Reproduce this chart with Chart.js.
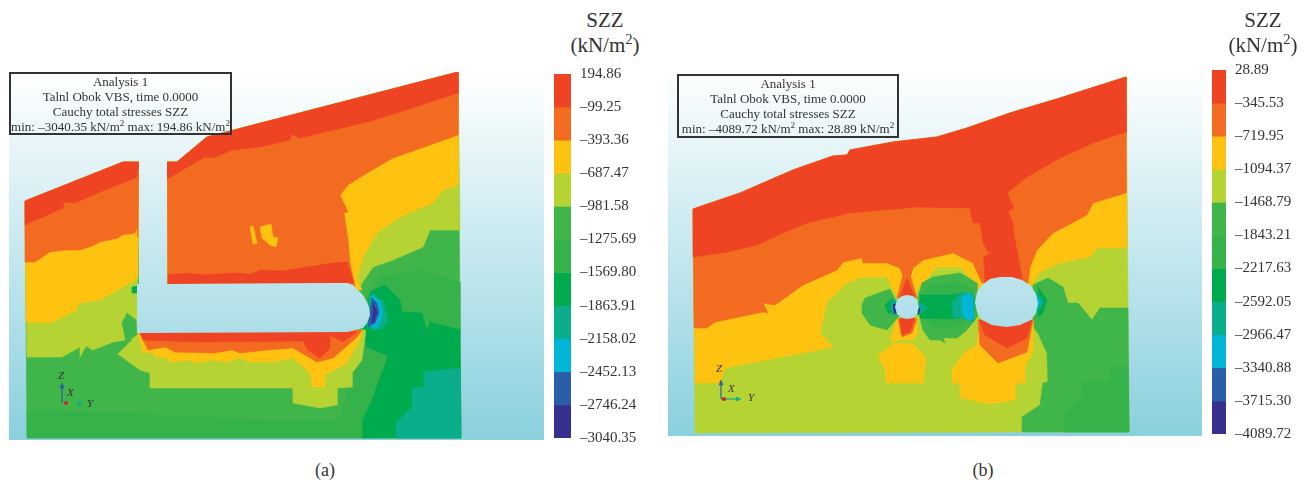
<!DOCTYPE html>
<html>
<head>
<meta charset="utf-8">
<script src="https://cdn.jsdelivr.net/npm/chart.js@4"></script>
<style>
  html, body { margin: 0; padding: 0; background: #fff; }
  body { position: relative; width: 1309px; height: 483px; overflow: hidden; font-family: "Liberation Serif", serif; color: #333; }
  canvas { position: absolute; }
  .title { position: absolute; width: 100px; text-align: center; font-size: 21px; line-height: 25px; }
  .title sup, .box sup { line-height: 0; font-size: 70%; }
  .box { position: absolute; box-sizing: border-box; border: 2px solid #333; text-align: center; font-size: 13px; line-height: 15px; white-space: nowrap; }
  .cap { position: absolute; font-size: 18px; width: 40px; text-align: center; }
  .ax { position: absolute; font-style: italic; font-size: 11px; line-height: 11px; }
</style>
</head>
<body>
<canvas id="modelA" width="535" height="368" style="left:9px;top:72px"></canvas>
<canvas id="barA" width="100" height="392" style="left:554px;top:60px"></canvas>
<canvas id="modelB" width="534" height="368" style="left:668px;top:68px"></canvas>
<canvas id="barB" width="97" height="392" style="left:1212px;top:56px"></canvas>

<div class="title" style="left:555px;top:8px">SZZ<br>(kN/m<sup>2</sup>)</div>
<div class="title" style="left:1213px;top:8px">SZZ<br>(kN/m<sup>2</sup>)</div>

<div class="box" style="left:9px;top:72px;width:223px;height:63px">Analysis 1<br>Talnl Obok VBS, time 0.0000<br>Cauchy total stresses SZZ<br>min: –3040.35 kN/m<sup>2</sup> max: 194.86 kN/m<sup>2</sup></div>
<div class="box" style="left:677px;top:74px;width:222px;height:64px">Analysis 1<br>Talnl Obok VBS, time 0.0000<br>Cauchy total stresses SZZ<br>min: –4089.72 kN/m<sup>2</sup> max: 28.89 kN/m<sup>2</sup></div>

<div class="ax" style="left:58px;top:370px">Z</div>
<div class="ax" style="left:67px;top:387px">X</div>
<div class="ax" style="left:87px;top:398px">Y</div>
<div class="ax" style="left:716px;top:363px">Z</div>
<div class="ax" style="left:728px;top:383px">X</div>
<div class="ax" style="left:748px;top:392px">Y</div>

<div class="cap" style="left:305px;top:460px">(a)</div>
<div class="cap" style="left:963px;top:460px">(b)</div>

<script>
// legend values
const ticksA = [194.86, -99.25, -393.36, -687.47, -981.58, -1275.69, -1569.80, -1863.91, -2158.02, -2452.13, -2746.24, -3040.35];
const ticksB = [28.89, -345.53, -719.95, -1094.37, -1468.79, -1843.21, -2217.63, -2592.05, -2966.47, -3340.88, -3715.30, -4089.72];

const RED = '#ef4423', ORANGE = '#f36b21', YELLOW = '#fec210', LIME = '#b5d333', G1 = '#40b549', G2 = '#36b24a',
  G3 = '#00ab4e', TEAL = '#0aae8a', CYAN = '#00b5d6', BLUE = '#2b5ea8', NAVY = '#38308f';
const bandColors = [RED, ORANGE, YELLOW, LIME, G1, G2, G3, TEAL, CYAN, BLUE, NAVY];

// ---- contour outlines of panel (a) ----
const a_base = [[25,201],[123,162],[139,162],[139,284],[167,284],[167,162],[177,162],[207,137],[458,72],[461,438],[27,438]];
const a_g2Bottom = [[27,410],[100,412],[200,417],[300,421],[333,420],[357,413],[365,397],[365,438],[27,438]];
const a_g2Right = [[365,300],[380,277],[420,270],[460,282],[460,335],[365,335]];
const a_g2Under = [[352,373],[363,335],[372,345],[388,356],[383,370],[372,400],[365,415],[340,420]];
const a_g3 = [[363,330],[367,347],[388,356],[383,370],[372,400],[363,420],[363,438],[461,438],[460,330],[430,322],[427,332],[422,313],[402,312],[400,300],[385,285],[370,292]];
const a_teal = [[396,438],[396,423],[412,407],[412,388],[424,387],[424,372],[460,368],[461,438]];
const a_limeL = [[25,201],[123,162],[139,162],[137,338],[113,342],[93,350],[86,346],[80,357],[80,347],[62,357],[27,357]];
const a_blob = [[127,313],[122,323],[126,342],[137,335],[136,320]];
const a_blob2 = [[132,287],[137,286],[137,293],[132,293]];
const a_yellowL = [[25,201],[123,162],[139,162],[138,278],[130,283],[100,300],[78,303],[77,310],[50,323],[26,322]];
const a_orangeL = [[25,201],[123,162],[139,162],[138,238],[137,228],[135,233],[122,235],[118,238],[100,242],[92,246],[80,250],[65,250],[50,252],[35,262],[25,262]];
const a_redL = [[25,201],[123,162],[139,162],[137,177],[100,192],[75,203],[63,202],[63,208],[25,225]];
const a_limeR = [[167,162],[177,162],[207,137],[458,72],[460,230],[430,230],[423,247],[393,260],[373,267],[362,283],[358,290],[168,284]];
const a_yellowR = [[167,162],[177,162],[207,137],[458,72],[458,185],[443,190],[433,203],[400,217],[377,233],[363,257],[357,277],[362,290],[168,284]];
const a_orangeR = [[167,162],[177,162],[207,137],[458,72],[458,135],[430,145],[393,158],[367,173],[348,185],[340,195],[348,212],[344,213],[348,240],[350,263],[355,287],[168,284]];
const a_redTop = [[167,162],[177,162],[207,137],[458,72],[458,93],[400,112],[367,122],[300,138],[292,134],[290,140],[260,147],[232,150],[213,158],[205,157],[167,179]];
const a_redStrip = [[168,284],[168,275],[187,273],[205,275],[233,273],[250,274],[262,270],[283,271],[300,268],[333,263],[347,262],[354,283]];
const a_patch1 = [[250,227],[253,226],[257,243],[253,244]];
const a_patch2 = [[260,227],[271,224],[273,237],[278,238],[276,247],[270,245],[262,238]];
const a_limeUnder = [[118,354],[137,335],[365,330],[365,337],[362,360],[352,373],[352,387],[337,388],[337,405],[320,408],[293,403],[293,388],[150,388],[150,373],[140,370]];
const a_yellowUnder = [[138,333],[143,353],[152,352],[155,356],[167,358],[170,362],[190,360],[196,363],[213,360],[227,362],[240,358],[250,362],[273,362],[293,358],[310,373],[312,387],[325,387],[325,375],[347,363],[362,335],[358,330]];
const a_orangeUnder = [[140,333],[148,350],[165,347],[175,352],[213,353],[232,350],[240,353],[267,350],[293,348],[317,362],[333,358],[357,337],[362,330]];
const a_redUnder = [[140,333],[143,340],[200,342],[303,341],[308,350],[320,358],[330,348],[330,335],[343,342],[357,332]];
const a_ringTeal = [[370,295],[383,300],[388,320],[383,328],[375,330],[367,327]];
const a_ringCyan = [[372,294],[380,302],[383,313],[378,327],[370,327]];
const a_ringBlue = [[372,298],[377,303],[379,313],[375,323],[368,327]];
const a_ringNavy = [[373,303],[377,312],[374,322],[372,323],[373,312]];
const a_void = [[139,162],[167,162],[167,284],[330,283],[347,283],[353,285],[358,290],[363,295],[367,302],[369,307],[370,315],[367,323],[363,328],[347,332],[137,333],[137,284],[139,284]];
const a_axisZ = [[62,403],[62,387]], a_axisY = [[78,403],[80,403]];
const a_headZ = [[60,388],[62,383],[64,388]], a_headY = [[78,401],[83,403],[78,405]];
const a_origin = [[66,403]];

// ---- contour outlines of panel (b) ----
const b_base = [[693,209],[740,193],[793,170],[833,156],[847,155],[850,150],[893,142],[937,137],[967,128],[1010,113],[1060,98],[1126,77],[1127,180],[1129,432],[1022,432],[695,433]];
const b_yellow = [[693,209],[740,193],[793,170],[833,156],[847,155],[850,150],[893,142],[937,137],[967,128],[1010,113],[1060,98],[1126,77],[1127,248],[1097,248],[1090,257],[1060,263],[1040,272],[1032,285],[978,290],[975,283],[960,267],[937,267],[917,290],[910,300],[900,300],[893,290],[887,277],[863,277],[847,283],[827,302],[820,333],[833,347],[725,368],[720,383],[695,383]];
const b_orange = [[693,209],[740,193],[793,170],[833,156],[847,155],[850,150],[893,142],[937,137],[967,128],[1010,113],[1060,98],[1126,77],[1126,193],[1093,203],[1087,215],[1053,233],[1037,250],[1030,267],[1028,283],[982,283],[973,263],[953,253],[923,260],[913,268],[908,285],[903,277],[900,268],[887,263],[863,263],[862,258],[843,262],[837,270],[803,285],[775,305],[763,303],[768,313],[763,312],[715,322],[707,328],[694,328]];
const b_red = [[693,209],[740,193],[793,170],[833,156],[847,155],[850,150],[893,142],[937,137],[967,128],[1010,113],[1060,98],[1126,77],[1126,132],[1093,143],[1060,158],[1027,177],[1007,193],[1014,208],[1008,212],[1012,220],[1015,240],[1023,283],[985,285],[984,260],[983,257],[993,252],[988,252],[983,242],[980,223],[973,223],[970,208],[917,207],[850,213],[807,223],[783,233],[757,245],[727,252],[693,257]];
const b_greenRight = [[1033,285],[1048,278],[1063,287],[1068,303],[1078,303],[1092,320],[1100,308],[1128,308],[1129,432],[1022,432],[1022,417],[1040,405],[1043,383],[1048,382],[1047,353],[1038,333],[1033,327]];
const b_g2Corner = [[1128,367],[1110,367],[1110,382],[1083,382],[1083,397],[1065,413],[1065,432],[1129,432]];
const b_yellowTrap = [[878,355],[895,343],[913,344],[926,358],[923,383],[886,383],[885,370]];
const b_yellowBig = [[952,370],[965,352],[977,345],[980,320],[1033,320],[1033,350],[1025,367],[1025,383],[1015,383],[1015,400],[990,404],[960,398],[960,383],[952,383]];
const b_orangeUnder = [[978,320],[980,345],[998,363],[1027,352],[1033,320]];
const b_redUnder = [[979,320],[985,335],[1007,348],[1027,338],[1032,320]];
const b_yellowNeck = [[890,342],[897,318],[917,318],[918,333],[913,340],[900,340]];
const b_orangeLow = [[898,319],[917,319],[912,333],[902,337]];
const b_redLow = [[900,318],[915,318],[910,332],[902,335]];
const b_orangeUp = [[897,298],[905,268],[908,268],[917,298]];
const b_redUp = [[900,297],[907,278],[915,297]];
const b_blobLeft = [[862,305],[865,298],[890,289],[898,305],[900,315],[887,330],[870,325],[862,313]];
const b_ringLeftG2 = [[885,305],[892,298],[897,307],[895,315],[888,313]];
const b_ringLeftTeal = [[891,301],[896,300],[896,315],[891,314]];
const b_ringLeftNavy = [[893,304],[897,304],[897,313],[894,313]];
const b_blobMid = [[922,283],[933,277],[960,273],[977,283],[977,317],[967,330],[957,338],[943,338],[945,343],[940,340],[930,340],[923,330],[920,318],[918,297]];
const b_midG2 = [[922,292],[930,285],[957,282],[973,290],[973,313],[960,325],[937,328],[922,318]];
const b_midG3 = [[920,295],[950,295],[963,293],[974,297],[974,313],[963,318],[950,319],[920,318]];
const b_midTeal = [[952,303],[960,293],[972,293],[974,322],[963,318],[953,317]];
const b_midCyan = [[962,298],[968,293],[973,297],[974,318],[968,321],[962,313]];
const b_ringRightTeal = [[918,302],[928,308],[918,315]];
const b_ringRightNavy = [[918,305],[920,310],[918,315]];
const b_bigG3 = [[1038,287],[1047,300],[1043,313],[1038,317]];
const b_bigTeal = [[1036,292],[1044,302],[1036,313]];
const b_bigCyan = [[1036,295],[1041,302],[1036,310]];
const b_voidBig = [[975,302],[977,292],[982,285],[990,279],[1000,277],[1012,277],[1022,280],[1031,286],[1036,294],[1038,303],[1036,313],[1031,320],[1020,325],[1006,327],[992,325],[982,320],[977,312]];
const b_voidSmall = [[895,307],[897,300],[902,296],[907,295],[913,296],[917,300],[919,307],[917,314],[913,318],[907,319],[902,318],[897,314]];
const b_axisZ = [[721,399],[721,384]], b_axisY = [[721,399],[736,399]];
const b_headZ = [[719,385],[721,380],[723,385]], b_headY = [[736,397],[741,399],[736,401]];
const b_origin = [[724,399]];

const VOID = 'void';
const regionsA = [
  [a_base, G1], [a_g2Bottom, G2], [a_g2Right, G2], [a_g2Under, G2], [a_g3, G3], [a_teal, TEAL],
  [a_limeL, LIME], [a_blob, G1], [a_blob2, G3], [a_yellowL, YELLOW], [a_orangeL, ORANGE], [a_redL, RED],
  [a_limeR, LIME], [a_yellowR, YELLOW], [a_orangeR, ORANGE], [a_redTop, RED], [a_redStrip, RED], [a_patch1, YELLOW], [a_patch2, YELLOW],
  [a_limeUnder, LIME], [a_yellowUnder, YELLOW], [a_orangeUnder, ORANGE], [a_redUnder, RED],
  [a_ringTeal, TEAL], [a_ringCyan, CYAN], [a_ringBlue, BLUE], [a_ringNavy, NAVY], [a_void, VOID],
  [a_headZ, BLUE], [a_headY, TEAL]
];
const regionsB = [
  [b_base, LIME], [b_yellow, YELLOW], [b_orange, ORANGE], [b_red, RED],
  [b_greenRight, G1], [b_g2Corner, G2], [b_yellowTrap, YELLOW], [b_yellowBig, YELLOW], [b_orangeUnder, ORANGE], [b_redUnder, RED],
  [b_yellowNeck, YELLOW], [b_orangeLow, ORANGE], [b_redLow, RED], [b_orangeUp, ORANGE], [b_redUp, RED],
  [b_blobLeft, G1], [b_ringLeftG2, G3], [b_ringLeftTeal, TEAL], [b_ringLeftNavy, NAVY],
  [b_blobMid, G1], [b_midG2, G2], [b_midG3, G3], [b_midTeal, TEAL], [b_midCyan, CYAN], [b_ringRightTeal, TEAL], [b_ringRightNavy, NAVY],
  [b_bigG3, G3], [b_bigTeal, TEAL], [b_bigCyan, CYAN], [b_voidBig, VOID], [b_voidSmall, VOID],
  [b_headZ, BLUE], [b_headY, TEAL]
];

const toPoints = pts => pts.map(([x, y]) => ({ x, y }));

function drawModel(id, regions, lines, origin, xr, yr) {
  const canvas = document.getElementById(id);
  const ctx = canvas.getContext('2d');
  // the sky gradient shows through the tunnels as well
  const sky = ctx.createLinearGradient(0, 0, 0, canvas.height);
  sky.addColorStop(0, '#ffffff');
  sky.addColorStop(1, '#8ad0de');

  const datasets = regions.map(([pts, color], i) => {
    const c = color === VOID ? sky : color;
    return {
      data: toPoints(pts.concat([pts[0]])), showLine: true, fill: 'shape', tension: 0,
      backgroundColor: c, borderColor: c, borderWidth: color === VOID ? 0 : 0.6, pointRadius: 0, order: 1000 - i
    };
  });
  lines.forEach(([pts, color]) => {
    datasets.push({ data: toPoints(pts), showLine: true, fill: false, borderColor: color, borderWidth: 1.2, pointRadius: 0, order: 1 });
  });
  datasets.push({ data: toPoints(origin), showLine: false, pointRadius: 2, pointBackgroundColor: '#d2232a', pointBorderWidth: 0, order: 0 });

  new Chart(ctx, {
    type: 'scatter',
    data: { datasets },
    options: {
      responsive: false, animation: false, devicePixelRatio: 1,
      layout: { padding: 0, autoPadding: false },
      plugins: { legend: { display: false }, tooltip: { enabled: false } },
      scales: {
        x: { type: 'linear', display: false, min: xr[0], max: xr[1] },
        y: { type: 'linear', display: false, min: yr[0], max: yr[1], reverse: true }
      }
    },
    plugins: [{
      id: 'sky',
      beforeDraw(chart) {
        chart.ctx.fillStyle = sky;
        chart.ctx.fillRect(0, 0, chart.width, chart.height);
      }
    }]
  });
}

function drawBar(id, values) {
  const fmt = v => (v < 0 ? '–' : '') + Math.abs(v).toFixed(2);
  new Chart(document.getElementById(id), {
    type: 'bar',
    data: {
      labels: ['SZZ'],
      datasets: bandColors.map((c, i) => ({ data: [[values[i + 1], values[i]]], backgroundColor: c, barPercentage: 1, categoryPercentage: 1, grouped: false }))
    },
    options: {
      responsive: false, animation: false, devicePixelRatio: 1,
      layout: { padding: { top: 14, bottom: 14, left: 0, right: 0 }, autoPadding: false },
      plugins: { legend: { display: false }, tooltip: { enabled: false } },
      scales: {
        x: { display: false },
        y: {
          position: 'right', min: values[values.length - 1], max: values[0],
          grid: { display: false, drawTicks: false }, border: { display: false },
          afterBuildTicks: axis => { axis.ticks = values.map(v => ({ value: v })); },
          afterFit: axis => { axis.width = 83; axis.paddingTop = 0; axis.paddingBottom = 0; },
          ticks: { autoSkip: false, padding: 9, color: '#333', font: { family: 'Liberation Serif', size: 15 }, callback: v => fmt(v) }
        }
      }
    }
  });
}

drawModel('modelA', regionsA, [[a_axisZ, BLUE], [a_axisY, TEAL]], a_origin, [9, 544], [72, 440]);
drawModel('modelB', regionsB, [[b_axisZ, BLUE], [b_axisY, TEAL]], b_origin, [668, 1202], [68, 436]);
drawBar('barA', ticksA);
drawBar('barB', ticksB);
</script>
</body>
</html>
